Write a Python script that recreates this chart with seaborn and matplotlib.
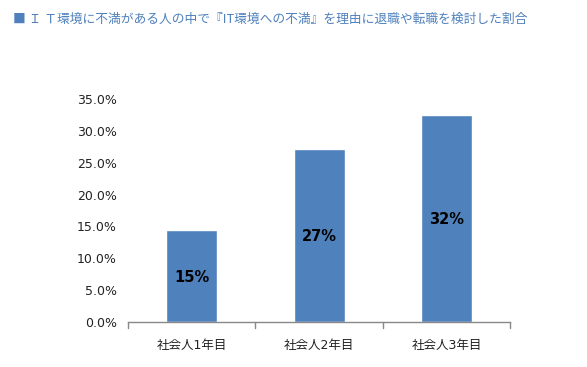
import matplotlib
matplotlib.use("Agg")
import matplotlib.pyplot as plt
import pandas as pd
import seaborn as sns

# データ
categories = ["社会人1年目", "社会人2年目", "社会人3年目"]
rates = [0.144, 0.272, 0.325]
bar_labels = ["15%", "27%", "32%"]
title = "■ Ｉ Ｔ環境に不満がある人の中で『IT環境への不満』を理由に退職や転職を検討した割合"

sns.set_theme(style="white")
plt.rcParams["font.family"] = ["DejaVu Sans", "Noto Sans CJK JP"]

BAR_COLOR = "#4F81BD"

df = pd.DataFrame({"category": categories, "rate": rates})

fig = plt.figure(figsize=(5.87, 3.67), dpi=100)
ax = fig.add_axes([0.218, 0.1226, 0.651, 0.6074])

sns.barplot(data=df, x="category", y="rate", color=BAR_COLOR, width=0.4,
            saturation=1, ax=ax)

# 棒の中央にラベル
for patch, lab in zip(ax.patches, bar_labels):
    x = patch.get_x() + patch.get_width() / 2
    y = patch.get_height() / 2
    ax.text(x, y - 0.002, lab, ha="center", va="center", fontsize=10.5,
            fontweight="semibold", color="black")

ax.set_ylim(0, 0.35)
ax.set_xlim(-0.5, 2.5)
ax.set_yticks([i * 0.05 for i in range(8)])
ax.set_yticklabels([f"{i * 5:.1f}%" for i in range(8)], fontsize=9, color="#222222")
ax.tick_params(axis="x", labelsize=9, colors="#222222", length=0, pad=12)
ax.tick_params(axis="y", length=0, pad=8)
ax.set_xlabel("")
ax.set_ylabel("")

for side in ["top", "right", "left"]:
    ax.spines[side].set_visible(False)
ax.spines["bottom"].set_color("#888888")
ax.spines["bottom"].set_linewidth(1)

# カテゴリ境界の目盛り
for xb in [-0.5, 0.5, 1.5, 2.5]:
    ax.plot([xb, xb], [0, -0.01], color="#888888", lw=1, clip_on=False,
            transform=ax.transData)

fig.text(13 / 587, 1 - 19 / 367, title, fontsize=9.2, color="#4F81BD",
         ha="left", va="center",
         family=["Noto Sans CJK JP", "DejaVu Sans"])

fig.savefig("out.png", dpi=100)
